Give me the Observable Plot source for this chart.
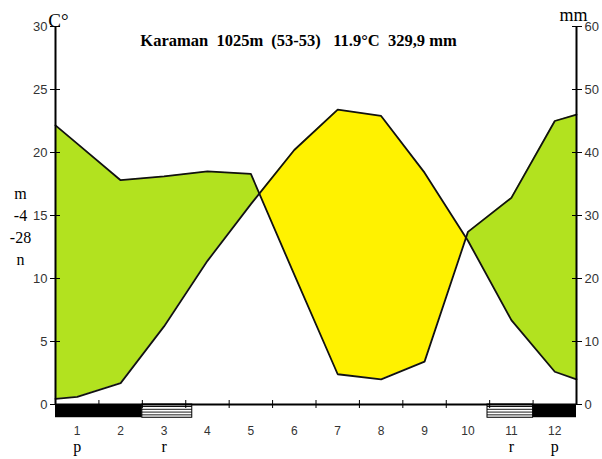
<!DOCTYPE html>
<html><head><meta charset="utf-8">
<script src="https://cdn.jsdelivr.net/npm/d3@7"></script>
<script src="https://cdn.jsdelivr.net/npm/@observablehq/plot@0.6"></script>
<style>
body{margin:0;background:#fff}
svg text.keepspace{white-space:pre}
</style>
</head><body><div id="chart"></div>
<script>
// ---- data ----
const months = [1,2,3,4,5,6,7,8,9,10,11,12];
const monthLabels = ["1","2","3","4","5","6","7","8","9","10","11","12"];
const tempC = [0.6,1.7,6.2,11.4,15.9,20.2,23.4,22.9,18.4,13.0,6.7,2.6];
const precipMm = [41.4,35.6,36.2,37.0,36.6,20.6,4.8,4.0,6.8,27.4,32.8,45.0];
const edgeX = [0.5, 12.5];
const edgeTempC = [0.45, 2.0];
const edgePrecipMm = [44.3, 46.0];
const tempTicks = [0,5,10,15,20,25,30];
const monthBoundaries = [1.5,2.5,3.5,4.5,5.5,6.5,7.5,8.5,9.5,10.5,11.5];
const frostSureStart = [0.5, 11.5];
const frostSureEnd = [2.5, 12.5];
const frostProbStart = [2.5, 10.45];
const frostProbEnd = [3.65, 11.5];
const flagMonths = [1,3,11,12];
const flagLabels = ["p","r","r","p"];
const sideLabels = ["m","-4","-28","n"];
const titleText = "Karaman  1025m  (53-53)   11.9°C  329,9 mm";

const GREEN = "#b2e21f", YELLOW = "#fff200";

// series in °C units (precip mm / 2)
const series = [
  {x: edgeX[0], t: edgeTempC[0], p: edgePrecipMm[0] / 2},
  ...months.map((m, i) => ({x: m, t: tempC[i], p: precipMm[i] / 2})),
  {x: edgeX[1], t: edgeTempC[1], p: edgePrecipMm[1] / 2}
];
// insert crossing points so the two fills meet cleanly
const pts = [];
for (let i = 0; i < series.length; i++) {
  const a = series[i];
  pts.push(a);
  const b = series[i + 1];
  if (b) {
    const da = a.p - a.t, db = b.p - b.t;
    if (da * db < 0) {
      const f = da / (da - db);
      const v = a.t + f * (b.t - a.t);
      pts.push({x: a.x + f * (b.x - a.x), t: v, p: v});
    }
  }
}
const sureIdx = frostSureStart.map((_, i) => i);
const probIdx = frostProbStart.map((_, i) => i);
const axisFont = "Liberation Sans, Arial, sans-serif";
const serif = "Liberation Serif, Times New Roman, serif";

const chart = Plot.plot({
  width: 602, height: 459,
  marginLeft: 55, marginRight: 26, marginTop: 26, marginBottom: 55,
  x: {domain: [0.5, 12.5], axis: null},
  y: {domain: [0, 30], axis: null},
  style: {background: "white", overflow: "visible"},
  marks: [
    Plot.areaY(pts, {x: "x", y1: "t", y2: d => Math.max(d.t, d.p), fill: GREEN, curve: "linear"}),
    Plot.areaY(pts, {x: "x", y1: "p", y2: d => Math.max(d.t, d.p), fill: YELLOW, curve: "linear"}),
    Plot.line(series, {x: "x", y: "t", stroke: "#111", strokeWidth: 1.8}),
    Plot.line(series, {x: "x", y: "p", stroke: "#111", strokeWidth: 1.8}),
    // frost bars
    Plot.rect(sureIdx, {x1: i => frostSureStart[i], x2: i => frostSureEnd[i], y1: 0, y2: -1.05, fill: "#000"}),
    Plot.rect(probIdx, {x1: i => frostProbStart[i], x2: i => frostProbEnd[i], y1: 0, y2: -1.05, fill: "url(#hatch)", stroke: "#000", strokeWidth: 1}),
    // axis lines
    Plot.ruleX([edgeX[0]], {stroke: "#000", strokeWidth: 2}),
    Plot.ruleX([edgeX[1]], {stroke: "#000", strokeWidth: 2}),
    Plot.ruleY([0], {stroke: "#000", strokeWidth: 2}),
    // y axes
    Plot.axisY({anchor: "left", ticks: tempTicks, tickSize: 10, dx: 5, tickPadding: 3,
      stroke: "#000", fill: "#333", fontSize: 13, fontFamily: axisFont, label: null}),
    Plot.axisY({anchor: "right", ticks: tempTicks, tickSize: 10, dx: -5, tickPadding: 3,
      tickFormat: d => String(d * 2), stroke: "#000", fill: "#333", fontSize: 13, fontFamily: axisFont, label: null}),
    // x ticks at month boundaries
    Plot.axisX({ticks: monthBoundaries, tickSize: 8, dy: -4, tickFormat: () => "", stroke: "#000", label: null}),
    // month labels
    Plot.axisX({ticks: months, tickSize: 0, tickPadding: 22, tickFormat: (d, i) => monthLabels[i],
      fill: "#333", fontSize: 12, fontFamily: axisFont, label: null}),
    // p / r flags
    Plot.text(flagMonths, {x: d => d, y: 0, text: (d, i) => flagLabels[i], dy: 42.5,
      fontSize: 16, fontFamily: serif, fill: "#000"}),
    // side labels
    Plot.text([sideLabels.join("\n")], {frameAnchor: "left", dx: -35, dy: 9.5, text: d => d,
      textAnchor: "middle", lineHeight: 1.36, fontSize: 16, fontFamily: serif, fill: "#000"}),
    // unit labels
    Plot.text(["C°"], {frameAnchor: "top-left", dx: 3, dy: -13, text: d => d, textAnchor: "middle",
      fontSize: 19, fontFamily: serif, fill: "#000"}),
    Plot.text(["mm"], {frameAnchor: "top-right", dx: -3, dy: -18, text: d => d, textAnchor: "middle",
      fontSize: 18, fontFamily: serif, fill: "#000"}),
    // title
    Plot.text([titleText], {frameAnchor: "top", dx: -17.5, dy: 7.5, text: d => d,
      fontSize: 16.5, fontWeight: "bold", fontFamily: serif, fill: "#000", className: "keepspace"})
  ]
});

// hatch pattern for probable frost
const svg = d3.select(chart);
const defs = svg.insert("defs", ":first-child");
const pat = defs.append("pattern").attr("id", "hatch").attr("patternUnits", "userSpaceOnUse")
  .attr("width", 6).attr("height", 2.8);
pat.append("rect").attr("width", 6).attr("height", 2.8).attr("fill", "#fff");
pat.append("rect").attr("y", 0).attr("width", 6).attr("height", 0.9).attr("fill", "#000");
svg.selectAll("text.keepspace, .keepspace text").style("white-space", "pre");
document.getElementById("chart").appendChild(chart);
</script>
</body></html>
